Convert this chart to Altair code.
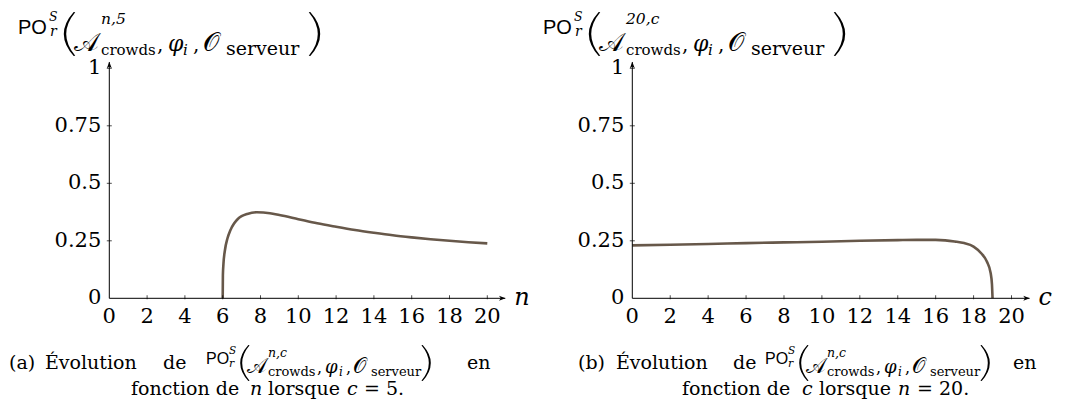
import altair as alt
import pandas as pd

# ---------------- data ----------------
n_vals = [6.0, 6.01, 6.04, 6.12, 6.25, 6.4, 6.6, 6.8, 7.0, 7.3, 7.8, 8.5, 9, 10, 11, 12, 13, 14, 15, 16, 17, 18, 19, 20]
po_n = [0.0, 0.10, 0.15, 0.21, 0.26, 0.295, 0.325, 0.345, 0.357, 0.367, 0.374, 0.37, 0.362, 0.344, 0.326, 0.311, 0.297, 0.285, 0.274, 0.265, 0.257, 0.25, 0.244, 0.239]

c_vals = [0, 2, 4, 6, 8, 10, 12, 14, 15, 16, 16.5, 17, 17.5, 18, 18.4, 18.7, 18.9, 18.97, 19.0]
po_c = [0.23, 0.233, 0.236, 0.24, 0.243, 0.246, 0.25, 0.253, 0.254, 0.254, 0.252, 0.247, 0.24, 0.225, 0.196, 0.16, 0.11, 0.06, 0.0]

x_ticks = [0, 2, 4, 6, 8, 10, 12, 14, 16, 18, 20]
x_tick_labels = ["0", "2", "4", "6", "8", "10", "12", "14", "16", "18", "20"]
y_ticks = [0, 0.25, 0.5, 0.75, 1]
y_tick_labels = ["0", "0.25", "0.5", "0.75", "1"]
x_end = 20.95   # end of the arrowed x axis (data units)
y_end = 1.027   # end of the arrowed y axis (data units)

# ---------------- styling ----------------
SERIF = "DejaVu Serif"
SANS = "Liberation Sans"
LINE = "#67584a"
M = 8  # page margin
TICK_FS = 21

LPAREN = "M 0.35 -1 Q -0.55 0 0.35 1 L 0.42 0.99 Q -0.4 0 0.42 -0.99 Z"
RPAREN = "M -0.35 -1 Q 0.55 0 -0.35 1 L -0.42 0.99 Q 0.4 0 -0.42 -0.99 Z"
ARROW = "M 1 0 L -1 -0.75 L -0.45 0 L -1 0.75 Z"

layers = []
one = alt.Data(values=[{}])


def T(text, x, y, size, style="normal", font=SERIF, align="left"):
    layers.append(
        alt.Chart(one).mark_text(text=text, font=font, fontSize=size, fontStyle=style,
                                 align=align, baseline="alphabetic", color="black")
        .encode(x=alt.value(x - M), y=alt.value(y - M))
    )


def P(path, cx, cy, h):
    layers.append(
        alt.Chart(one).mark_point(shape=path, filled=True, size=h * h, color="black", opacity=1, strokeWidth=0)
        .encode(x=alt.value(cx - M), y=alt.value(cy - M))
    )


def panel(xs, ys, x0, x20, label):
    xsc = alt.Scale(domain=[0, 20], range=[x0 - M, x20 - M])
    ysc = alt.Scale(domain=[0, 1], range=[298.3 - M, 68.3 - M])

    def X(f):
        return alt.X(f, type="quantitative", scale=xsc, axis=None)

    def Y(f):
        return alt.Y(f, type="quantitative", scale=ysc, axis=None)

    curve = pd.DataFrame({"x": xs, "y": ys})
    layers.append(alt.Chart(curve).mark_line(color=LINE, strokeWidth=2.6, interpolate="monotone")
                  .encode(x=X("x"), y=Y("y")))
    ax = pd.DataFrame({"a": [0], "b": [x_end], "v": [0], "w": [y_end]})
    layers.append(alt.Chart(ax).mark_rule(color="black", strokeWidth=1)
                  .encode(x=X("a"), x2="b", y=Y("v")))
    layers.append(alt.Chart(ax).mark_rule(color="black", strokeWidth=1)
                  .encode(x=X("a"), y=Y("v"), y2="w"))
    layers.append(alt.Chart(ax).mark_point(shape=ARROW, filled=True, size=42, color="black", opacity=1,
                                           xOffset=-3)
                  .encode(x=X("b"), y=Y("v")))
    layers.append(alt.Chart(ax).mark_point(shape=ARROW, filled=True, size=42, color="black", opacity=1,
                                           angle=270, yOffset=3)
                  .encode(x=X("a"), y=Y("w")))
    xt = pd.DataFrame({"t": x_ticks, "lab": x_tick_labels, "v": [0] * len(x_ticks)})
    layers.append(alt.Chart(xt[xt.t > 0]).mark_tick(orient="vertical", size=4, thickness=1, color="black",
                                                     yOffset=-1)
                  .encode(x=X("t"), y=Y("v")))
    layers.append(alt.Chart(xt).mark_text(font=SERIF, fontSize=TICK_FS, baseline="middle", align="center", dy=19)
                  .encode(x=X("t"), y=Y("v"), text="lab"))
    yt = pd.DataFrame({"t": y_ticks, "lab": y_tick_labels, "a": [0] * len(y_ticks)})
    layers.append(alt.Chart(yt[yt.t > 0]).mark_tick(orient="horizontal", size=5, thickness=1, color="black")
                  .encode(x=X("a"), y=Y("t")))
    layers.append(alt.Chart(yt).mark_text(font=SERIF, fontSize=TICK_FS, baseline="middle", align="right", dx=-8)
                  .encode(x=X("a"), y=Y("t"), text="lab"))
    layers.append(alt.Chart(ax).mark_text(text=label, font=SERIF, fontStyle="italic", fontSize=24,
                                          baseline="alphabetic", align="left", dx=9, dy=7)
                  .encode(x=X("b"), y=Y("v")))


panel(n_vals, po_n, 109.3, 487.3, "n")
panel(c_vals, po_c, 632.3, 1011.5, "c")

SCRIPT_A = "𝒜"
SCRIPT_O = "𝒪"


def title(dx, sup):
    s = 7  # shift down so nothing is cut at the top
    T("PO", 18 + dx, 26.5 + s, 20, font=SANS)
    T("S", 49 + dx, 14 + s, 12.5, "italic")
    T("r", 50 + dx, 29 + s, 14, "italic")
    P(LPAREN, 66 + dx, 27 + s, 44)
    T(SCRIPT_A, 74 + dx, 43.5 + s, 26)
    T(sup, 101 + dx, 17 + s, 15.5, "italic")
    T("crowds", 101 + dx, 48 + s, 15)
    T(",", 157 + dx, 43.5 + s, 20)
    T("φ", 168 + dx, 43.5 + s, 22, "italic")
    T("i", 183 + dx, 48 + s, 15, "italic")
    T(",", 193 + dx, 43.5 + s, 20)
    T(SCRIPT_O, 203 + dx, 43.5 + s, 26)
    T("serveur", 226 + dx, 48 + s, 19)
    P(RPAREN, 318 + dx, 27 + s, 44)


title(0, "n,5")
title(525, "20,c")


def math_chunk(x, b):
    T("PO", x, b - 5, 16, font=SANS)
    T("S", x + 23, b - 15, 10.5, "italic")
    T("r", x + 23, b - 2, 11, "italic")
    P(LPAREN, x + 36, b - 6, 36)
    T(SCRIPT_A, x + 41, b + 4, 21)
    T("n,c", x + 62, b - 12, 12.5, "italic")
    T("crowds", x + 62, b + 7, 13)
    T(",", x + 111, b + 4, 16)
    T("φ", x + 119, b + 4, 18, "italic")
    T("i", x + 133, b + 7, 12, "italic")
    T(",", x + 140, b + 4, 16)
    T(SCRIPT_O, x + 147, b + 4, 21)
    T("serveur", x + 165, b + 7, 13)
    P(RPAREN, x + 223, b - 6, 36)


b = 369
b2 = 395
# caption (a)
T("(a)", 9, b, 19)
T("Évolution", 45, b, 19)
T("de", 163, b, 19)
math_chunk(206, b)
T("en", 467, b, 19)
T("fonction de", 131, b2, 19)
T("n", 250, b2, 19, "italic")
T("lorsque", 268, b2, 19)
T("c", 347, b2, 19, "italic")
T("= 5.", 364, b2, 19)
# caption (b)
T("(b)", 578, b, 19)
T("Évolution", 616, b, 19)
T("de", 733, b, 19)
math_chunk(765, b)
T("en", 1013, b, 19)
T("fonction de", 682, b2, 19)
T("c", 802, b2, 19, "italic")
T("lorsque", 819, b2, 19)
T("n", 898, b2, 19, "italic")
T("= 20.", 917, b2, 19)

chart = alt.layer(*layers).resolve_scale(x="independent", y="independent").properties(
    width=1056, height=396, autosize=alt.AutoSizeParams(type="none"), padding=0
).configure_view(stroke=None)

chart.save("out.html", embed_options={"renderer": "svg", "actions": False})
